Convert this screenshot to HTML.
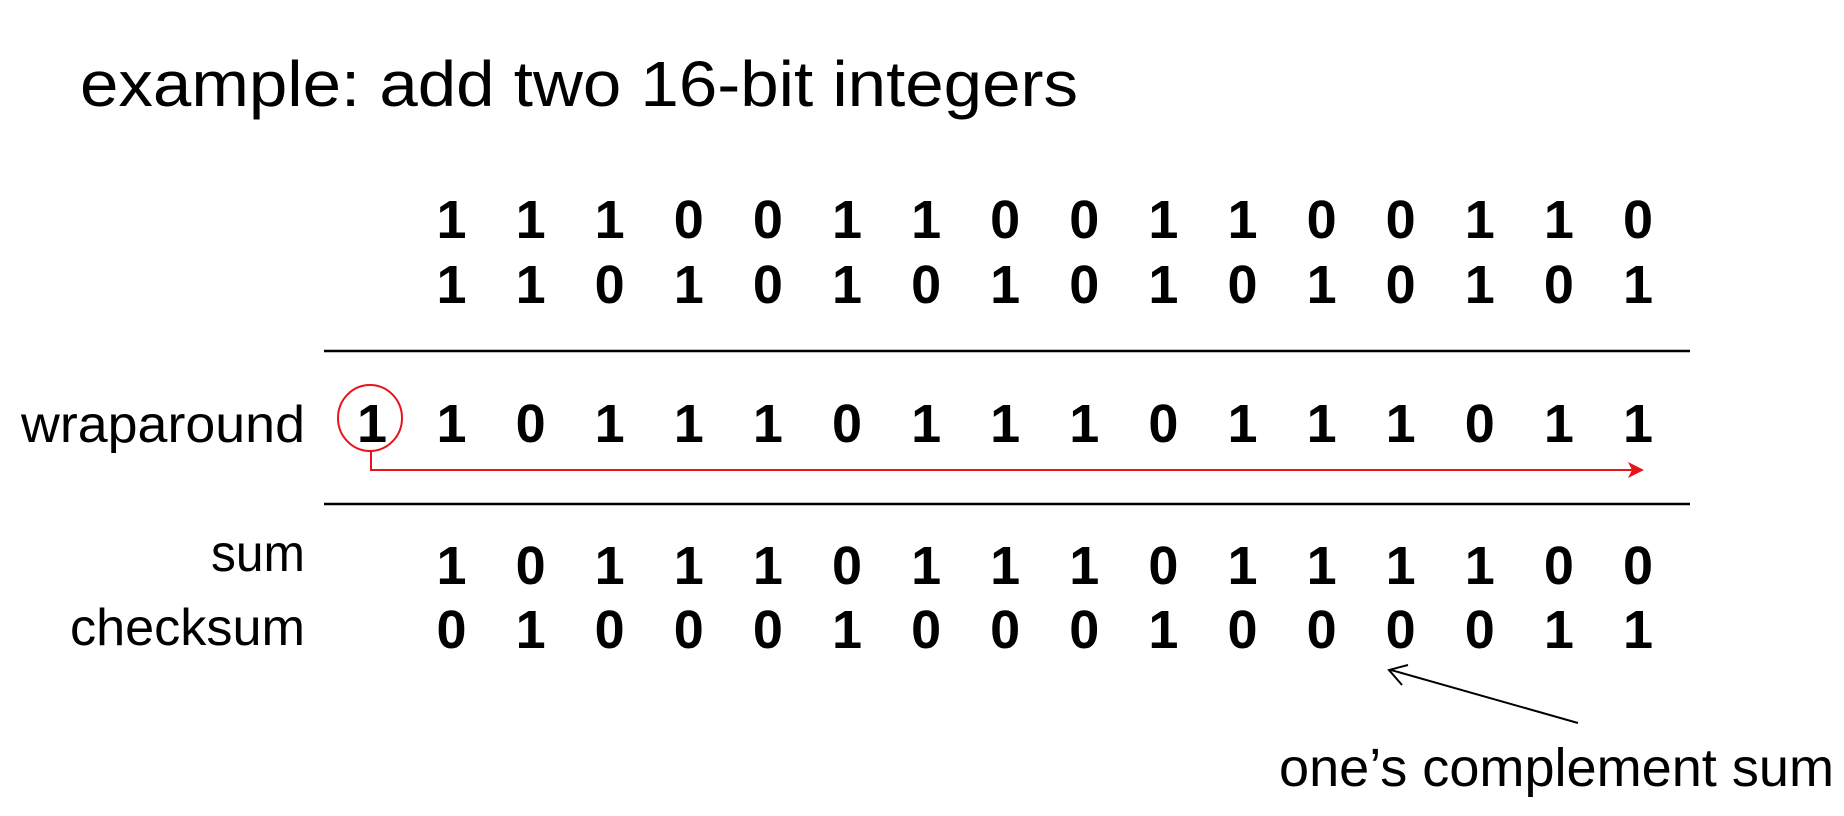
<!DOCTYPE html>
<html><head><meta charset="utf-8"><style>
html,body{margin:0;padding:0;background:#fff;}
svg{display:block;}
</style></head><body>
<svg id="fig" width="1844" height="816" viewBox="0 0 1844 816" xmlns="http://www.w3.org/2000/svg">
<text x="80" y="106" font-family="Liberation Sans, sans-serif" font-size="64" textLength="998" lengthAdjust="spacingAndGlyphs">example: add two 16-bit integers</text>
<line x1="324" y1="351" x2="1690" y2="351" stroke="#000" stroke-width="2.5"/>
<line x1="324" y1="504" x2="1690" y2="504" stroke="#000" stroke-width="2.5"/>
<text x="21" y="442" font-family="Liberation Sans, sans-serif" font-size="52" textLength="284" lengthAdjust="spacingAndGlyphs">wraparound</text>
<text x="305" y="571" text-anchor="end" font-family="Liberation Sans, sans-serif" font-size="52" textLength="94" lengthAdjust="spacingAndGlyphs">sum</text>
<text x="305" y="645" text-anchor="end" font-family="Liberation Sans, sans-serif" font-size="52" textLength="235" lengthAdjust="spacingAndGlyphs">checksum</text>
<ellipse cx="370" cy="418" rx="32" ry="33" fill="none" stroke="#e8141c" stroke-width="2"/>
<text x="372" y="442" text-anchor="middle" font-family="Liberation Sans, sans-serif" font-weight="bold" font-size="54">1</text>
<polyline points="371,451 371,470 1636,470" fill="none" stroke="#e8141c" stroke-width="2"/>
<polygon points="1644,470 1628,462 1632,470 1628,478" fill="#e8141c"/>
<line x1="1578" y1="723" x2="1391" y2="670" stroke="#000" stroke-width="2"/>
<polyline points="1402,685 1389,670 1408,665" fill="none" stroke="#000" stroke-width="2"/>
<text x="1279" y="786" font-family="Liberation Sans, sans-serif" font-size="54" textLength="555" lengthAdjust="spacingAndGlyphs">one’s complement sum</text>
<g id="digits"></g>
</svg>
<script>
const row1 = "1110011001100110";
const row2 = "1101010101010101";
const wrapRow = "1011101110111011";
const sumRow = "1011101110111100";
const checksumRow = "0100010001000011";
const rowNames = ["addend-1","addend-2","wraparound-row","sum-row","checksum-row"];
const rowBaselines = [238, 303, 442, 584, 648];
const rows = [row1, row2, wrapRow, sumRow, checksumRow];
const g = document.getElementById('digits');
const ns = "http://www.w3.org/2000/svg";
const colX = i => 451.5 + 79.1 * i;
rows.forEach((r, ri) => {
  for (let i = 0; i < r.length; i++) {
    const t = document.createElementNS(ns, 'text');
    
    
    t.setAttribute('x', colX(i));
    t.setAttribute('y', rowBaselines[ri]);
    t.setAttribute('text-anchor', 'middle');
    t.setAttribute('font-family', 'Liberation Sans, sans-serif');
    t.setAttribute('font-weight', 'bold');
    t.setAttribute('font-size', '54');
    t.textContent = r[i];
    g.appendChild(t);
  }
});
</script>
</body></html>
